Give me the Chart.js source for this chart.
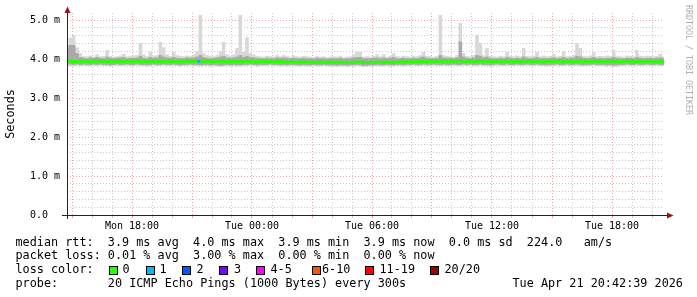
<!DOCTYPE html>
<html><head><meta charset="utf-8">
<script src="https://cdn.jsdelivr.net/npm/chart.js@4.4.1/dist/chart.umd.min.js"></script>
<style>html,body{margin:0;padding:0;background:#fff}canvas{display:block}</style>
</head><body>
<canvas id="c" width="697" height="297"></canvas>
<script>
// time base: hours since Mon 00:00, one sample every 10 minutes
const startHour = 14.75;
const stepHours = 1 / 6;
const endHour = 44.6;

// median rtt (ms)
const median = [
3.95,3.94,3.93,3.94,3.95,3.94,3.94,3.93,3.94,3.95,3.95,3.94,3.93,3.94,3.94,3.95,3.94,3.93,3.94,3.94,
3.95,3.94,3.94,3.93,3.94,3.95,3.94,3.94,3.93,3.94,3.94,3.95,3.94,3.93,3.93,3.94,3.94,3.95,3.94,3.94,
3.94,3.95,3.94,3.94,3.93,3.94,3.95,3.94,3.93,3.94,3.94,3.93,3.94,3.94,3.95,3.94,3.93,3.93,3.94,3.94,
3.93,3.94,3.93,3.93,3.94,3.93,3.92,3.93,3.93,3.92,3.93,3.93,3.92,3.93,3.92,3.92,3.93,3.92,3.92,3.93,
3.92,3.92,3.93,3.92,3.91,3.92,3.92,3.93,3.92,3.92,3.91,3.92,3.92,3.93,3.92,3.92,3.93,3.92,3.92,3.93,
3.93,3.92,3.93,3.93,3.94,3.93,3.94,3.94,3.93,3.94,3.94,3.95,3.94,3.94,3.95,3.94,3.94,3.95,3.95,3.94,
3.95,3.94,3.94,3.95,3.94,3.94,3.95,3.94,3.93,3.94,3.94,3.95,3.94,3.94,3.93,3.94,3.95,3.94,3.94,3.94,
3.95,3.94,3.94,3.93,3.94,3.94,3.95,3.94,3.94,3.95,3.94,3.94,3.93,3.94,3.95,3.94,3.94,3.93,3.94,3.94,
3.95,3.94,3.94,3.95,3.94,3.94,3.93,3.94,3.94,3.95,3.94,3.93,3.94,3.94,3.95,3.94,3.94,3.93,3.94,3.94
];

// smoke: slowest ping of each step (ms)
const smokeMax = [
4.35,4.55,4.62,4.30,4.15,4.08,4.07,4.09,4.06,4.12,
4.07,4.08,4.23,4.08,4.06,4.07,4.09,4.13,4.07,4.08,
4.09,4.10,4.41,4.12,4.08,4.18,4.09,4.10,4.44,4.30,
4.12,4.08,4.18,4.10,4.08,4.07,4.09,4.08,4.12,4.20,
5.13,4.15,4.10,4.08,4.07,4.10,4.20,4.44,4.12,4.08,
4.12,4.28,5.13,4.18,4.56,4.15,4.12,4.08,4.07,4.06,
4.08,4.07,4.06,4.10,4.07,4.10,4.08,4.06,4.09,4.07,
4.06,4.08,4.07,4.06,4.05,4.08,4.06,4.07,4.05,4.06,
4.07,4.06,4.08,4.05,4.06,4.07,4.12,4.19,4.18,4.06,
4.07,4.06,4.08,4.12,4.07,4.12,4.06,4.08,4.15,4.07,
4.06,4.08,4.07,4.06,4.08,4.07,4.10,4.18,4.08,4.07,
4.06,4.08,5.13,4.10,4.08,4.07,4.06,4.10,4.92,4.15,
4.08,4.07,4.10,4.62,4.41,4.10,4.28,4.08,4.07,4.06,
4.08,4.07,4.18,4.08,4.07,4.09,4.07,4.28,4.08,4.07,
4.08,4.18,4.07,4.09,4.07,4.08,4.13,4.07,4.08,4.20,
4.07,4.08,4.10,4.41,4.28,4.08,4.07,4.09,4.18,4.07,
4.08,4.07,4.09,4.08,4.23,4.08,4.07,4.06,4.09,4.08,
4.07,4.23,4.08,4.07,4.09,4.08,4.07,4.08,4.13,4.07
];

// smoke: fastest ping of each step (ms)
const smokeMin = [
3.81,3.82,3.82,3.83,3.82,3.83,3.82,3.82,3.83,3.82,
3.83,3.82,3.82,3.81,3.82,3.83,3.82,3.82,3.83,3.82,
3.82,3.83,3.82,3.82,3.81,3.82,3.83,3.82,3.82,3.83,
3.82,3.82,3.83,3.82,3.81,3.82,3.82,3.83,3.82,3.82,
3.81,3.82,3.82,3.81,3.82,3.81,3.80,3.81,3.82,3.81,
3.82,3.81,3.81,3.82,3.82,3.83,3.82,3.81,3.82,3.82,
3.82,3.83,3.82,3.82,3.81,3.82,3.81,3.82,3.82,3.81,
3.81,3.82,3.81,3.81,3.82,3.81,3.81,3.82,3.81,3.81,
3.81,3.80,3.81,3.81,3.80,3.81,3.81,3.82,3.81,3.80,
3.80,3.81,3.81,3.82,3.81,3.81,3.82,3.81,3.81,3.82,
3.82,3.81,3.82,3.82,3.83,3.82,3.82,3.83,3.82,3.82,
3.83,3.82,3.82,3.83,3.82,3.82,3.83,3.82,3.82,3.83,
3.82,3.83,3.82,3.82,3.83,3.82,3.82,3.81,3.82,3.83,
3.82,3.82,3.83,3.82,3.82,3.83,3.82,3.82,3.83,3.82,
3.82,3.83,3.82,3.82,3.81,3.82,3.82,3.83,3.82,3.82,
3.83,3.82,3.82,3.83,3.82,3.81,3.82,3.82,3.83,3.82,
3.82,3.82,3.81,3.82,3.80,3.81,3.82,3.82,3.83,3.82,
3.82,3.83,3.82,3.82,3.83,3.82,3.82,3.83,3.82,3.82
];

// dense core of the smoke (ms)
const coreHi = [
4.30,4.36,4.36,4.15,4.05,4.03,4.02,4.04,4.03,4.05,
4.03,4.02,4.06,4.03,4.02,4.03,4.04,4.05,4.02,4.03,
4.03,4.04,4.08,4.03,4.02,4.05,4.03,4.04,4.10,4.06,
4.04,4.03,4.05,4.03,4.02,4.02,4.04,4.03,4.04,4.06,
4.10,4.05,4.03,4.02,4.03,4.04,4.06,4.08,4.04,4.03,
4.04,4.06,4.10,4.05,4.08,4.05,4.04,4.03,4.02,4.02,
4.03,4.02,4.02,4.04,4.03,4.04,4.03,4.02,4.03,4.02,
4.02,4.03,4.02,4.02,4.01,4.03,4.02,4.02,4.01,4.02,
4.02,4.02,4.03,4.01,4.02,4.02,4.04,4.05,4.05,4.02,
4.02,4.02,4.03,4.04,4.02,4.04,4.02,4.03,4.05,4.02,
4.02,4.03,4.02,4.02,4.03,4.02,4.04,4.06,4.03,4.02,
4.02,4.03,4.10,4.04,4.03,4.03,4.02,4.04,4.45,4.06,
4.03,4.02,4.04,4.10,4.08,4.04,4.06,4.03,4.02,4.02,
4.03,4.02,4.05,4.03,4.02,4.03,4.02,4.06,4.03,4.02,
4.03,4.05,4.02,4.03,4.02,4.03,4.04,4.02,4.03,4.05,
4.02,4.03,4.04,4.08,4.06,4.03,4.02,4.03,4.05,4.02,
4.03,4.02,4.03,4.03,4.05,4.03,4.02,4.02,4.03,4.03,
4.02,4.05,4.03,4.02,4.03,4.03,4.02,4.03,4.04,4.02
];
const coreLo = [
3.85,3.86,3.85,3.86,3.85,3.86,3.85,3.85,3.86,3.85,
3.86,3.85,3.85,3.84,3.85,3.86,3.85,3.85,3.86,3.85,
3.85,3.86,3.85,3.85,3.84,3.85,3.86,3.85,3.85,3.86,
3.85,3.85,3.86,3.85,3.84,3.85,3.85,3.86,3.85,3.85,
3.84,3.85,3.85,3.84,3.85,3.84,3.83,3.84,3.85,3.84,
3.85,3.84,3.84,3.85,3.85,3.86,3.85,3.84,3.85,3.85,
3.85,3.86,3.85,3.85,3.84,3.85,3.84,3.85,3.85,3.84,
3.84,3.85,3.84,3.84,3.85,3.84,3.84,3.85,3.84,3.84,
3.84,3.83,3.84,3.84,3.83,3.84,3.84,3.85,3.84,3.83,
3.83,3.84,3.84,3.85,3.84,3.84,3.85,3.84,3.84,3.85,
3.85,3.84,3.85,3.85,3.86,3.85,3.85,3.86,3.85,3.85,
3.86,3.85,3.85,3.86,3.85,3.85,3.86,3.85,3.85,3.86,
3.85,3.86,3.85,3.85,3.86,3.85,3.85,3.84,3.85,3.86,
3.85,3.85,3.86,3.85,3.85,3.86,3.85,3.85,3.86,3.85,
3.85,3.86,3.85,3.85,3.84,3.85,3.85,3.86,3.85,3.85,
3.86,3.85,3.85,3.86,3.85,3.84,3.85,3.85,3.86,3.85,
3.85,3.85,3.84,3.85,3.83,3.84,3.85,3.85,3.86,3.85,
3.85,3.86,3.85,3.85,3.86,3.85,3.85,3.86,3.85,3.85
];

// packet loss (sparse): sample index -> lost pings of 20
const lossIndex = [40];
const lossCount = [1];

const lossLabels = ['0', '1', '2', '3', '4-5', '6-10', '11-19', '20/20'];
const lossColors = ['#26ff00', '#00b8ff', '#0059ff', '#7e00ff', '#ff00ff', '#ff5500', '#ff0000', '#a10000'];

const xTickHours = [18, 24, 30, 36, 42];
const xTickLabels = ['Mon 18:00', 'Tue 00:00', 'Tue 06:00', 'Tue 12:00', 'Tue 18:00'];
const yMax = 5.18;

const legendRows = [
  'median rtt:  3.9 ms avg  4.0 ms max  3.9 ms min  3.9 ms now  0.0 ms sd  224.0   am/s',
  'packet loss: 0.01 % avg  3.00 % max  0.00 % min  0.00 % now',
  'loss color:',
  'probe:       20 ICMP Echo Pings (1000 Bytes) every 300s'
];
const stampText = 'Tue Apr 21 20:42:39 2026';

const times = median.map((_, i) => startHour + i * stepHours);
const loss = median.map((_, i) => { const k = lossIndex.indexOf(i); return k >= 0 ? lossCount[k] : 0; });
function lossColor(n) {
  if (n <= 0) return lossColors[0];
  if (n <= 3) return lossColors[n];
  if (n <= 5) return lossColors[4];
  if (n <= 10) return lossColors[5];
  if (n <= 19) return lossColors[6];
  return lossColors[7];
}

const MONO = 'DejaVu Sans Mono';
const RED_GRID = 'rgba(200,60,60,0.45)';
const GRAY_GRID = 'rgba(140,140,140,0.45)';

const decor = {
  id: 'decor',
  afterDraw(chart) {
    const c = chart.ctx;
    c.save();
    // axes
    c.strokeStyle = '#222';
    c.lineWidth = 1;
    c.beginPath();
    c.moveTo(62, 215.5); c.lineTo(668, 215.5);
    c.moveTo(67.5, 219); c.lineTo(67.5, 12);
    c.stroke();
    c.fillStyle = '#9a1414';
    c.beginPath();
    c.moveTo(667, 212.5); c.lineTo(673.5, 215.5); c.lineTo(667, 218.5); c.closePath(); c.fill();
    c.beginPath();
    c.moveTo(64.5, 13); c.lineTo(67.5, 6.5); c.lineTo(70.5, 13); c.closePath(); c.fill();

    // y title
    c.fillStyle = '#000';
    c.font = '11.8px "' + MONO + '"';
    c.textAlign = 'center';
    c.textBaseline = 'middle';
    c.save();
    c.translate(11, 114);
    c.rotate(-Math.PI / 2);
    c.fillText('Seconds', 0, 0);
    c.restore();

    // watermark
    c.save();
    c.fillStyle = '#b0b0b0';
    c.font = '8.3px "' + MONO + '"';
    c.translate(688, 5);
    c.rotate(Math.PI / 2);
    c.textAlign = 'left';
    c.textBaseline = 'middle';
    c.fillText('RRDTOOL / TOBI OETIKER', 0, 0);
    c.restore();

    // legend
    c.font = '11.8px "' + MONO + '"';
    c.textAlign = 'left';
    c.textBaseline = 'alphabetic';
    c.fillStyle = '#000';
    const base = [245.5, 259.3, 273.1, 286.9];
    legendRows.forEach((t, i) => c.fillText(t, 15.5, base[i]));
    c.fillText(stampText, 512.5, base[3]);
    const boxX = [109, 146, 182, 219, 256, 312, 365, 430];
    const labX = [122.5, 159.5, 196.5, 234, 270.5, 322, 379.5, 444.5];
    lossLabels.forEach((l, i) => {
      c.fillStyle = lossColors[i];
      c.fillRect(boxX[i], 266, 9, 9);
      c.strokeStyle = '#000';
      c.strokeRect(boxX[i] + 0.5, 266.5, 8, 8);
      c.fillStyle = '#000';
      c.fillText(l, labX[i], base[2]);
    });
    c.restore();
  }
};

const barCommon = { type: 'bar', grouped: false, barPercentage: 1.08, categoryPercentage: 1, borderWidth: 0, borderSkipped: false };

new Chart(document.getElementById('c'), {
  type: 'bar',
  data: {
    datasets: [
      {
        type: 'line',
        data: times.map((t, i) => ({ x: t, y: median[i] })),
        borderColor: lossColors[0],
        borderWidth: 3,
        pointRadius: 0,
        tension: 0,
        fill: false,
        segment: { borderColor: ctx => lossColor(loss[ctx.p1DataIndex]) },
        order: 0
      },
      Object.assign({}, barCommon, {
        data: times.map((t, i) => ({ x: t, y: [coreLo[i], coreHi[i]] })),
        backgroundColor: '#a9a9a9',
        order: 1
      }),
      Object.assign({}, barCommon, {
        data: times.map((t, i) => ({ x: t, y: [smokeMin[i], smokeMax[i]] })),
        backgroundColor: '#d8d8d8',
        order: 2
      })
    ]
  },
  options: {
    responsive: false,
    animation: false,
    events: [],
    layout: { padding: { left: 30, right: 33, top: 13, bottom: 62 } },
    plugins: { legend: { display: false }, tooltip: { enabled: false } },
    scales: {
      x: {
        type: 'linear',
        min: startHour,
        max: endHour,
        offset: false,
        grid: {
          offset: false,
          lineWidth: 1,
          drawTicks: true,
          tickLength: 3,
          color: ctx => (ctx.tick && ctx.tick.value % 3 === 0) ? RED_GRID : GRAY_GRID,
          tickColor: ctx => (ctx.tick && ctx.tick.value % 3 === 0) ? RED_GRID : GRAY_GRID
        },
        border: { display: false, dash: [1, 2] },
        ticks: {
          stepSize: 1,
          autoSkip: false,
          maxRotation: 0,
          minRotation: 0,
          includeBounds: false,
          padding: 2,
          color: '#000',
          font: { family: MONO, size: 10 },
          callback: v => { const k = xTickHours.indexOf(v); return k >= 0 ? xTickLabels[k] : ''; }
        },
        afterFit: s => { s.height = 20; }
      },
      y: {
        type: 'linear',
        min: 0,
        max: yMax,
        grid: {
          drawTicks: false,
          lineWidth: 1,
          color: ctx => (ctx.tick && Math.abs(ctx.tick.value - Math.round(ctx.tick.value)) < 1e-6) ? RED_GRID : GRAY_GRID
        },
        border: { display: false, dash: [1, 2] },
        ticks: {
          stepSize: 0.2,
          autoSkip: false,
          includeBounds: false,
          crossAlign: 'far',
          color: '#000',
          font: { family: MONO, size: 10 },
          callback: v => {
            if (Math.abs(v - Math.round(v)) > 1e-6) return '';
            return v === 0 ? '0.0' : v.toFixed(1) + ' m';
          }
        },
        afterFit: s => { s.width = 37; }
      }
    }
  },
  plugins: [decor]
});
</script>
</body></html>
